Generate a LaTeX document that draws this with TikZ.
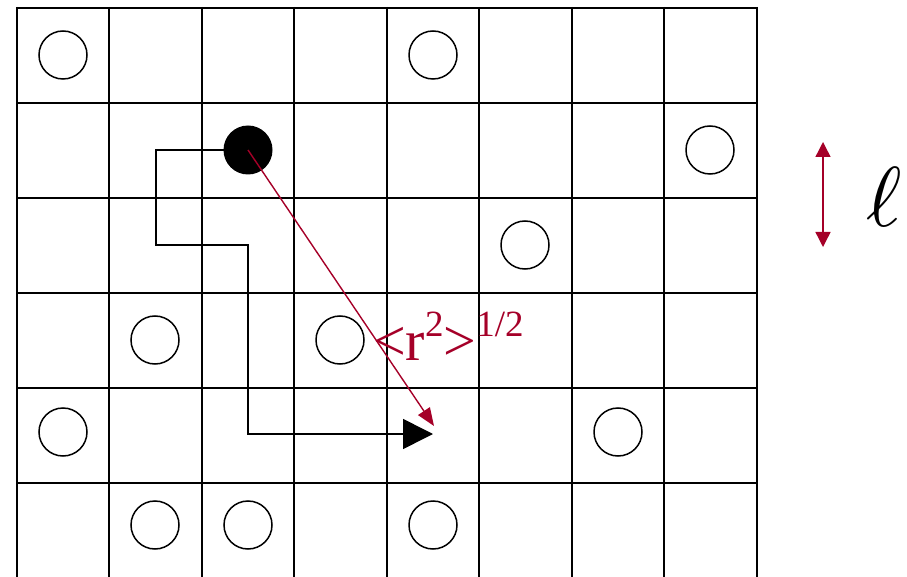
\documentclass[tikz,border=0pt]{standalone}
\usepackage{fontspec}
\setmainfont{Liberation Serif}
\usetikzlibrary{arrows.meta}
\definecolor{wine}{RGB}{165,0,40}
\begin{document}
\begin{tikzpicture}[x=1pt,y=-1pt,
  gridline/.style={line width=2pt,black},
  site/.style={circle,draw,line width=1.5pt,minimum size=48pt,inner sep=0pt},
  walker/.style={circle,fill=black,minimum size=49pt,inner sep=0pt},
  walkpath/.style={line width=1.6pt,black},
  redarrow/.style={line width=1.4pt,wine}]
\useasboundingbox (0,0) rectangle (907,577);
% grid
\foreach \x in {17,109,202,294,387,479,572,664,757}{
  \draw[gridline] (\x,7) -- (\x,580);
}
\foreach \y in {8,103,198,293,388,483}{
  \draw[gridline] (16,\y) -- (758,\y);
}
% open sites
\node[site] (s1) at (63,55) {};
\node[site] (s2) at (433,55) {};
\node[site] (s3) at (710,150) {};
\node[site] (s4) at (525,245) {};
\node[site] (s5) at (155,340) {};
\node[site] (s6) at (340,340) {};
\node[site] (s7) at (63,432) {};
\node[site] (s8) at (618,432) {};
\node[site] (s9) at (155,525) {};
\node[site] (s10) at (248,525) {};
\node[site] (s11) at (433,525) {};
% walker
\node[walker] (w) at (248,150) {};
\coordinate (c1) at (156,150);
\coordinate (c2) at (156,245);
\coordinate (c3) at (248,245);
\coordinate (c4) at (248,434);
\coordinate (tip) at (433,434);
\draw[walkpath,-{Triangle[length=30pt,width=30pt]}] (w.center) -- (c1) -- (c2) -- (c3) -- (c4) -- (tip);
% displacement
\coordinate (rtip) at (434,426);
\draw[redarrow,-{Triangle[length=18pt,width=14pt]}] (w.center) -- (rtip);
\node[wine,anchor=base west,inner sep=0pt] (lbl) at (373,360)
  {\fontsize{58}{62}\selectfont <r\raisebox{24pt}{\fontsize{37}{40}\selectfont 2}>\raisebox{24pt}{\fontsize{37}{40}\selectfont 1/2}};
% lattice spacing
\coordinate (la) at (823,142);
\coordinate (lb) at (823,247);
\draw[redarrow,{Triangle[length=15pt,width=15pt]}-{Triangle[length=15pt,width=15pt]}] (la) -- (lb);
\node[anchor=center,inner sep=0pt] (ell) at (884,197) {\scalebox{8.5}{$\ell$}};
\end{tikzpicture}
\end{document}
